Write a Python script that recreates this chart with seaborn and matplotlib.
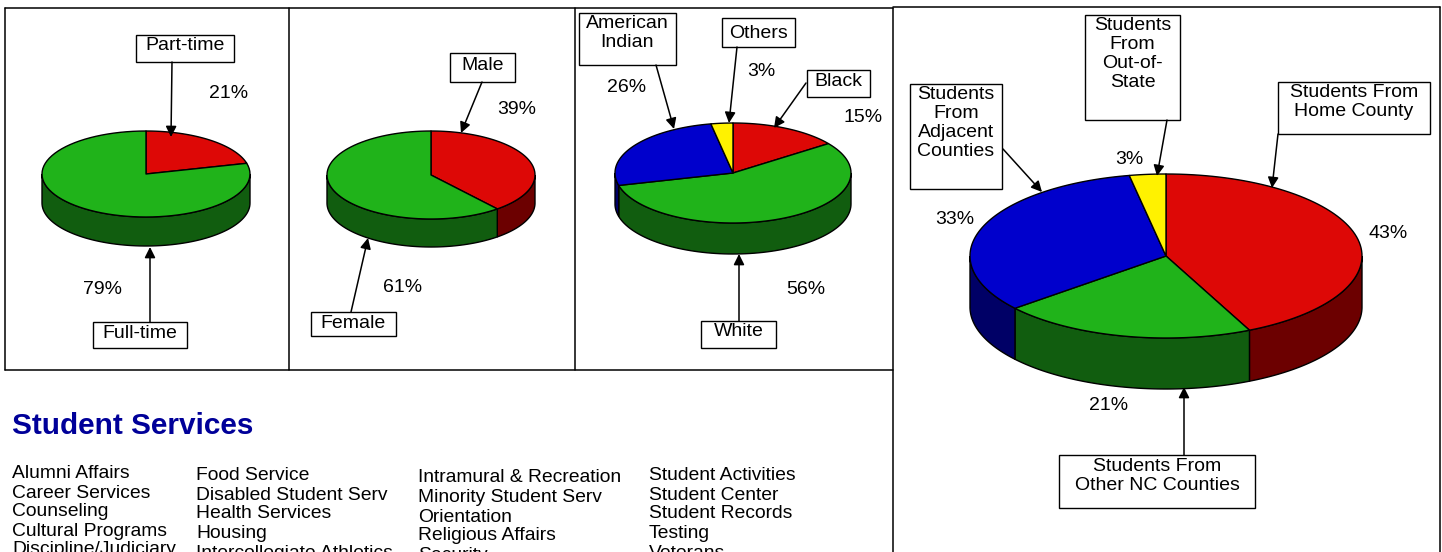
import numpy as np
import seaborn as sns
import matplotlib.pyplot as plt
from matplotlib.patches import Polygon, Rectangle

# ---- data ----
status_labels = ["Part-time", "Full-time"]
status_pct = [21, 79]

gender_labels = ["Male", "Female"]
gender_pct = [39, 61]

race_labels = ["Black", "White", "American\nIndian", "Others"]
race_pct = [15, 56, 26, 3]

origin_labels = ["Students From\nHome County", "Students From\nOther NC Counties",
                 "Students\nFrom\nAdjacent\nCounties", "Students\nFrom\nOut-of-\nState"]
origin_pct = [43, 21, 33, 3]

services_col1 = ["Alumni Affairs", "Career Services", "Counseling", "Cultural Programs", "Discipline/Judiciary"]
services_col2 = ["Food Service", "Disabled Student Serv", "Health Services", "Housing", "Intercollegiate Athletics"]
services_col3 = ["Intramural & Recreation", "Minority Student Serv", "Orientation", "Religious Affairs", "Security"]
services_col4 = ["Student Activities", "Student Center", "Student Records", "Testing", "Veterans"]

# slice colours (top, side)
RED = ("#DD0806", "#6C0000")
GREEN = ("#20B31A", "#115D0F")
BLUE = ("#0000CC", "#000066")
YELLOW = ("#FFF200", "#807900")

sns.set_theme(style="white")
plt.rcParams['font.family'] = ['Liberation Sans', 'DejaVu Sans']
plt.rcParams['text.color'] = 'black'

FS = 14

fig = plt.figure(figsize=(14.42, 5.52), dpi=100)
ax = fig.add_axes([0, 0, 1, 1])
ax.set_xlim(0, 1442)
ax.set_ylim(552, 0)
ax.axis("off")


def arc(t1, t2, cx, cy, rx, ry, dy=0):
    t = np.radians(np.linspace(t1, t2, 80))
    return np.column_stack([cx + rx * np.cos(t), cy - ry * np.sin(t) + dy])


def pie3d(values, colors, cx, cy, rx, ry, depth):
    fr = np.array(values, dtype=float) / sum(values)
    ends = 90 - np.cumsum(fr) * 360
    starts = ends + fr * 360
    # sides first (front half only: angles in (180, 360) mod 360)
    for a_hi, a_lo, col in zip(starts, ends, colors):
        for k in range(-2, 2):
            lo = max(a_lo, 180 + 360 * k)
            hi = min(a_hi, 360 + 360 * k)
            if hi > lo:
                top = arc(lo, hi, cx, cy, rx, ry)
                bot = arc(hi, lo, cx, cy, rx, ry, depth)
                ax.add_patch(Polygon(np.vstack([top, bot]), closed=True,
                                     facecolor=col[1], edgecolor="black", lw=1))
    for a_hi, a_lo, col in zip(starts, ends, colors):
        pts = np.vstack([[cx, cy], arc(a_lo, a_hi, cx, cy, rx, ry)])
        ax.add_patch(Polygon(pts, closed=True, facecolor=col[0],
                             edgecolor="black", lw=1, joinstyle="round"))


def callout(text, box, ty, tail, head):
    x0, y0, x1, y1 = box
    ax.add_patch(Rectangle((x0, y0), x1 - x0, y1 - y0, facecolor="white",
                           edgecolor="black", lw=1, zorder=3))
    ax.text((x0 + x1) / 2, ty, text, ha="center", va="center", fontsize=FS,
            linespacing=1.15, zorder=4)
    ax.annotate("", xy=head, xytext=tail, zorder=5,
                arrowprops=dict(arrowstyle="-|>", color="black", lw=1.1,
                                mutation_scale=16, shrinkA=0, shrinkB=0))


def pct_labels(values, positions):
    for v, (x, y) in zip(values, positions):
        ax.text(x, y, f"{v}%", ha="center", va="center", fontsize=FS)


# ---- panel frames ----
for seg in [([5, 893], [8, 8]), ([5, 893], [370, 370]), ([5, 5], [8, 370]),
            ([289, 289], [8, 370]), ([575, 575], [8, 370]),
            ([893, 893], [8, 552]), ([893, 1440], [7, 7]), ([1440, 1440], [7, 552])]:
    ax.plot(seg[0], seg[1], color="black", lw=1.1)

# ---- pie 1: enrollment status ----
pie3d(status_pct, [RED, GREEN], 146, 174, 104, 43, 29)
callout(status_labels[0], (136, 35, 234, 62), 46, (172, 62), (171, 137))
callout(status_labels[1], (93, 322, 187, 348), 333, (150, 322), (150, 247))
pct_labels(status_pct, [(229, 93), (102, 289)])

# ---- pie 2: gender ----
pie3d(gender_pct, [RED, GREEN], 431, 175, 104, 44, 28)
callout(gender_labels[0], (450, 53, 515, 82), 65, (482, 82), (461, 133))
callout(gender_labels[1], (311, 312, 396, 336), 323, (351, 312), (368, 238))
pct_labels(gender_pct, [(517, 110), (403, 287)])

# ---- pie 3: race ----
pie3d(race_pct, [RED, GREEN, BLUE, YELLOW], 733, 173, 118, 50, 31)
callout(race_labels[0], (807, 70, 870, 97), 81, (806, 83), (774, 128))
callout(race_labels[1], (701, 321, 776, 348), 331, (739, 321), (739, 254))
callout(race_labels[2], (579, 13, 676, 65), 33, (656, 65), (674, 129))
callout(race_labels[3], (722, 18, 795, 47), 33, (737, 47), (729, 123))
pct_labels(race_pct, [(863, 118), (806, 289), (627, 88), (761, 71)])

# ---- pie 4: student origin ----
pie3d(origin_pct, [RED, GREEN, BLUE, YELLOW], 1166, 256, 196, 82, 51)
callout(origin_labels[0], (1278, 82, 1430, 134), 102, (1278, 134), (1272, 188))
callout(origin_labels[1], (1059, 455, 1255, 508), 476, (1184, 455), (1184, 387))
callout(origin_labels[2], (910, 84, 1002, 189), 123, (1003, 149), (1042, 192))
callout(origin_labels[3], (1085, 15, 1180, 120), 54, (1167, 120), (1157, 176))
pct_labels(origin_pct, [(1388, 233), (1109, 405), (955, 220), (1129, 160)])

# ---- Student Services list ----
ax.text(12, 426, "Student Services", ha="left", va="center", fontsize=21.4,
        fontweight="bold", color="#000099")
for x, ys, col in [(12, [474, 493, 512, 531, 550], services_col1),
                   (196, [475, 495, 514, 534, 553], services_col2),
                   (418, [478, 498, 517, 536, 555], services_col3),
                   (649, [476, 495, 514, 534, 553], services_col4)]:
    for y, item in zip(ys, col):
        ax.text(x, y, item, ha="left", va="center", fontsize=13.9)

fig.savefig("out.png", dpi=100)
